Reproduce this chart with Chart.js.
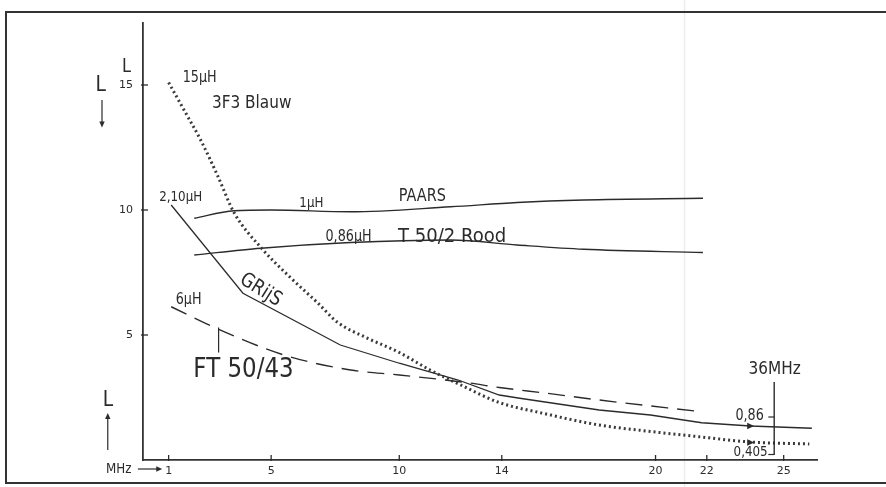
<!DOCTYPE html>
<html><head><meta charset="utf-8">
<script src="https://cdn.jsdelivr.net/npm/chart.js@4.4.1/dist/chart.umd.min.js"></script>
<style>html,body{margin:0;padding:0;background:#fff}#wrap{width:886px;height:487px;position:relative}</style>
</head><body><div id="wrap"><canvas id="c" width="886" height="487"></canvas></div>
<script>
// ---- data (frequency in MHz, inductance L in µH) ----
const xTicks = [1, 5, 10, 14, 20, 22, 25];
const yTicks = [5, 10, 15];

const freqBlauw = [1.0, 1.6, 2.25, 2.9, 3.55, 4.6, 5.75, 6.8, 7.6, 8.7, 10.0, 11.2, 12.4, 13.9, 15.6, 17.8, 19.9, 21.7, 23.7, 26.0];
const lBlauw    = [15.1, 14.0, 12.8, 11.4, 9.9, 8.5, 7.3, 6.3, 5.5, 4.9, 4.3, 3.6, 3.0, 2.3, 1.87, 1.4, 1.13, 0.93, 0.72, 0.64];

const freqGrijs = [1.1, 3.9, 7.7, 10.0, 12.3, 13.9, 14.7, 17.8, 19.8, 21.8, 23.7, 26.1];
const lGrijs    = [10.2, 6.67, 4.6, 3.87, 3.2, 2.6, 2.47, 2.0, 1.8, 1.49, 1.36, 1.27];

const freqFT = [1.1, 2.9, 5.5, 8.1, 10.0, 12.6, 13.9, 15.75, 17.8, 21.8];
const lFT    = [6.13, 5.25, 4.2, 3.6, 3.4, 3.1, 2.9, 2.67, 2.4, 1.93];

const freqPaars = [2.0, 3.55, 5.0, 8.1, 12.0, 14.6, 17.2, 21.85];
const lPaars    = [9.67, 9.97, 10.0, 9.93, 10.13, 10.3, 10.4, 10.47];

const freqRood = [2.0, 4.6, 8.1, 12.0, 14.6, 17.2, 21.85];
const lRood    = [8.2, 8.47, 8.7, 8.8, 8.6, 8.43, 8.3];

// annotation texts (positions in chart units)
const notes = [
  {t:'15µH',        x:2.21,  y:15.28, s:15},
  {t:'3F3 Blauw',   x:4.24,  y:14.28, s:18},
  {t:'2,10µH',      x:1.47,  y:10.52, s:14},
  {t:'1µH',         x:6.57,  y:10.28, s:14},
  {t:'PAARS',       x:10.9,  y:10.52, s:17},
  {t:'0,86µH',      x:8.02,  y:8.92,  s:15},
  {t:'T 50/2 Rood', x:12.06, y:8.92,  s:19, sx:0.95},
  {t:'GRijS',       x:4.59,  y:6.8,   s:20, r:32},
  {t:'6µH',         x:1.78,  y:6.4,   s:15},
  {t:'FT 50/43',    x:3.92,  y:3.6,   s:27},
  {t:'36MHz',       x:24.65, y:3.64,  s:18},
  {t:'0,86',        x:23.67, y:1.76,  s:15},
  {t:'0,405',       x:23.71, y:0.32,  s:14},
  {t:'L',           x:-0.64, y:15.72, s:19},
  {t:'L',           x:-1.65, y:15.0,  s:22},
  {t:'L',           x:-1.37, y:2.4,   s:22},
  {t:'MHz',         x:-0.95, y:-0.36, s:14}
];

const pts = (xs, ys) => xs.map((x, i) => ({x, y: ys[i]}));
const INK = '#2b2b2b';
const FONT = '"DejaVu Sans", sans-serif';

function txt(ctx, t, px, py, size, rot, sx) {
  ctx.save();
  ctx.translate(px, py);
  if (rot) ctx.rotate(rot * Math.PI / 180);
  ctx.scale(sx || 0.85, 1);
  ctx.font = size + 'px ' + FONT;
  ctx.fillStyle = INK;
  ctx.textAlign = 'center';
  ctx.textBaseline = 'middle';
  ctx.fillText(t, 0, 0);
  ctx.restore();
}
function line(ctx, x1, y1, x2, y2, w) {
  ctx.beginPath(); ctx.moveTo(x1, y1); ctx.lineTo(x2, y2);
  ctx.lineWidth = w || 1.3; ctx.strokeStyle = INK; ctx.stroke();
}
function head(ctx, x, y, dx, dy, size) {
  const len = Math.hypot(dx, dy), ux = dx / len, uy = dy / len, s = size || 6;
  ctx.beginPath();
  ctx.moveTo(x, y);
  ctx.lineTo(x - ux * s - uy * s * 0.45, y - uy * s + ux * s * 0.45);
  ctx.lineTo(x - ux * s + uy * s * 0.45, y - uy * s - ux * s * 0.45);
  ctx.closePath(); ctx.fillStyle = INK; ctx.fill();
}

const deco = {
  id: 'deco',
  beforeDraw(chart) {
    const {ctx, scales: {x}} = chart;
    ctx.save();
    ctx.fillStyle = '#fff'; ctx.fillRect(0, 0, chart.width, chart.height);
    const fx = x.getPixelForValue(21.13);
    ctx.strokeStyle = '#ececec'; ctx.lineWidth = 1.5;
    ctx.beginPath(); ctx.moveTo(fx, 0); ctx.lineTo(fx, chart.height); ctx.stroke();
    ctx.strokeStyle = '#333'; ctx.lineWidth = 2;
    ctx.beginPath(); ctx.moveTo(886, 12); ctx.lineTo(6, 12); ctx.lineTo(6, 483); ctx.lineTo(886, 483); ctx.stroke();
    ctx.restore();
  },
  afterDraw(chart) {
    const {ctx, scales: {x, y}} = chart;
    const X = v => x.getPixelForValue(v), Y = v => y.getPixelForValue(v);
    ctx.save();
    xTicks.forEach(v => line(ctx, X(v), Y(0) - 5, X(v), Y(0) + 1, 1.3));
    yTicks.forEach(v => line(ctx, X(0) - 2, Y(v), X(0) + 5, Y(v), 1.3));
    notes.forEach(n => txt(ctx, n.t, X(n.x), Y(n.y), n.s, n.r, n.sx || 0.85));
    // pointer FT 50/43
    line(ctx, X(2.95), Y(5.3), X(2.95), Y(4.3), 1.2);
    // L arrows
    line(ctx, X(-1.6), Y(14.4), X(-1.6), Y(13.5), 1.2); head(ctx, X(-1.6), Y(13.3), 0, 1, 6);
    line(ctx, X(-1.375), Y(0.4), X(-1.375), Y(1.7), 1.2); head(ctx, X(-1.375), Y(1.88), 0, -1, 6);
    // MHz arrow
    line(ctx, X(-0.2), Y(-0.36), X(0.55), Y(-0.36), 1.2); head(ctx, X(0.75), Y(-0.36), 1, 0, 6);
    // 36 MHz bracket
    line(ctx, X(24.63), Y(3.12), X(24.63), Y(0.2), 1.4);
    line(ctx, X(24.4), Y(1.72), X(24.63), Y(1.72), 1.2);
    line(ctx, X(24.4), Y(0.22), X(24.63), Y(0.22), 1.2);
    head(ctx, X(23.85), Y(1.36), 1, 0, 7);
    head(ctx, X(23.85), Y(0.7), 1, 0, 7);
    ctx.restore();
  }
};

new Chart(document.getElementById('c'), {
  type: 'line',
  data: {
    datasets: [
      {label: '3F3 Blauw', data: pts(freqBlauw, lBlauw), borderColor: '#3a3a3a', borderWidth: 3, borderDash: [2, 3], cubicInterpolationMode: 'monotone', pointRadius: 0, fill: false},
      {label: 'Grijs', data: pts(freqGrijs, lGrijs), borderColor: INK, borderWidth: 1.3, tension: 0, pointRadius: 0, fill: false},
      {label: 'FT 50/43', data: pts(freqFT, lFT), borderColor: INK, borderWidth: 1.4, borderDash: [17, 9], cubicInterpolationMode: 'monotone', pointRadius: 0, fill: false},
      {label: 'Paars', data: pts(freqPaars, lPaars), borderColor: INK, borderWidth: 1.3, cubicInterpolationMode: 'monotone', pointRadius: 0, fill: false},
      {label: 'T 50/2 Rood', data: pts(freqRood, lRood), borderColor: INK, borderWidth: 1.3, cubicInterpolationMode: 'monotone', pointRadius: 0, fill: false}
    ]
  },
  options: {
    responsive: false, animation: false, events: [],
    layout: {padding: {left: 0, right: 69, top: 23, bottom: 0}},
    plugins: {legend: {display: false}, tooltip: {enabled: false}},
    scales: {
      x: {
        type: 'linear', min: 0, max: 26.3,
        afterBuildTicks(s) { s.ticks = xTicks.map(v => ({value: v})); },
        afterFit(s) { s.height = 27; },
        grid: {display: true, drawOnChartArea: false, drawTicks: false},
        border: {display: true, color: '#333', width: 1.8},
        ticks: {padding: 5, autoSkip: false, maxRotation: 0, color: INK, font: {size: 11, family: FONT}}
      },
      y: {
        type: 'linear', min: 0, max: 17.48,
        afterBuildTicks(s) { s.ticks = yTicks.map(v => ({value: v})); },
        afterFit(s) { s.width = 143; },
        grid: {display: true, drawOnChartArea: false, drawTicks: false},
        border: {display: true, color: '#333', width: 1.8},
        ticks: {padding: 10, color: INK, font: {size: 11, family: FONT}}
      }
    }
  },
  plugins: [deco]
});
</script></body></html>
